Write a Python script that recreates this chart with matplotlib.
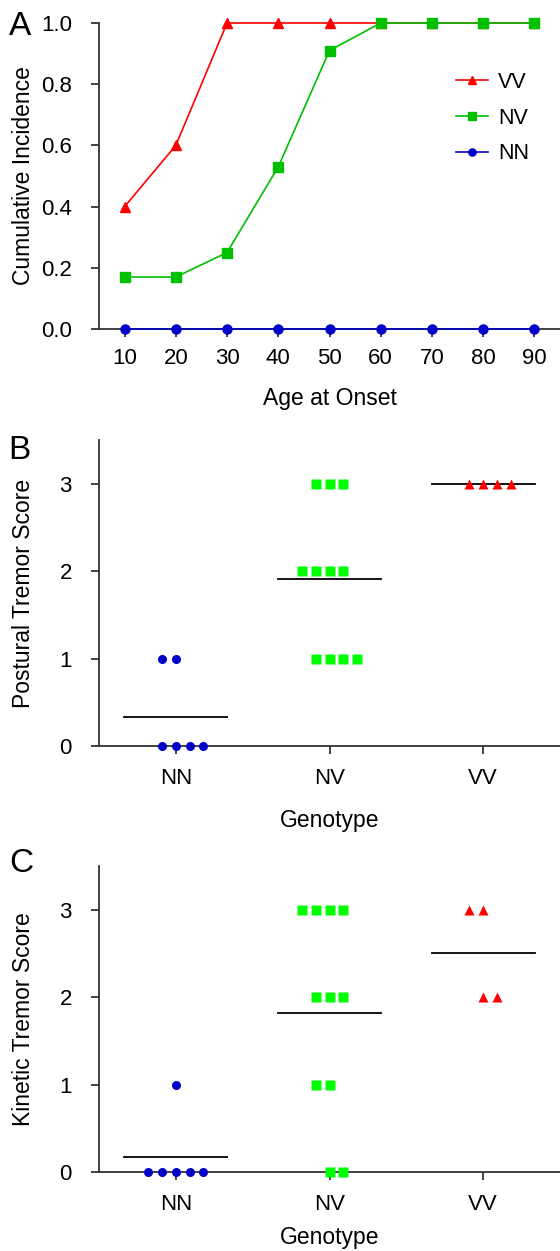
# cumulative incidence + tremor scores by genotype (3 stacked panels)

import numpy as np
import matplotlib
matplotlib.use('Agg')
import matplotlib.pyplot as plt

plt.rcParams['font.family'] = ['Liberation Sans', 'DejaVu Sans']

# panel A data
ages = [10, 20, 30, 40, 50, 60, 70, 80, 90]
inc_vv = [0.40, 0.60, 1.0, 1.0, 1.0, 1.0, 1.0, 1.0, 1.0]
inc_nv = [0.17, 0.17, 0.25, 0.53, 0.91, 1.0, 1.0, 1.0, 1.0]
inc_nn = [0.0, 0.0, 0.0, 0.0, 0.0, 0.0, 0.0, 0.0, 0.0]

# panel B / C data (one score per subject)
genotypes = ['NN', 'NV', 'VV']
postural_nn = [0, 0, 0, 0, 1, 1]
postural_nv = [3, 3, 3, 2, 2, 2, 2, 1, 1, 1, 1]
postural_vv = [3, 3, 3, 3]
kinetic_nn = [0, 0, 0, 0, 0, 1]
kinetic_nv = [3, 3, 3, 3, 2, 2, 2, 1, 1, 0, 0]
kinetic_vv = [3, 3, 2, 2]

# layout of the dot rows: first slot (in steps) for each score level
postural_start = [{0: -1, 1: -1}, {3: -1, 2: -2, 1: -1}, {3: -1}]
kinetic_start = [{0: -2, 1: 0}, {3: -2, 2: -1, 1: -1, 0: 0}, {3: -1, 2: 0}]

RED = '#ff0000'
GREEN_A = '#00c000'
GREEN = '#00ff00'
BLUE = '#0000c8'
SPINE = '#333333'

W, H = 560, 1251
fig = plt.figure(figsize=(W / 100, H / 100), dpi=100)

left = 99 / W
width = 461 / W


def axes_px(top, bottom):
    return fig.add_axes([left, 1 - bottom / H, width, (bottom - top) / H])


def style(ax, xpad):
    for s in ['top', 'right']:
        ax.spines[s].set_visible(False)
    for s in ['left', 'bottom']:
        ax.spines[s].set_color(SPINE)
        ax.spines[s].set_linewidth(1.3)
    ax.tick_params(axis='y', direction='out', length=6, width=1.3, color=SPINE,
                   labelsize=16, pad=13.5)
    ax.tick_params(axis='x', direction='out', length=6, width=1.3, color=SPINE,
                   labelsize=16, pad=xpad)


# ---- A ----
axA = axes_px(23, 329)
axA.plot(ages, inc_nn, '-o', color=BLUE, lw=1.2, ms=6.5, clip_on=False, zorder=3, label='NN')
axA.plot(ages, inc_vv, '-^', color=RED, lw=1.2, ms=7, clip_on=False, zorder=4, label='VV')
axA.plot(ages, inc_nv, '-s', color=GREEN_A, lw=1.2, ms=7, clip_on=False, zorder=5, label='NV')
axA.set_xlim(5, 95)
axA.set_ylim(0, 1)
axA.set_xticks(ages)
axA.set_yticks([0, 0.2, 0.4, 0.6, 0.8, 1.0])
axA.set_yticklabels(['%.1f' % v for v in [0, 0.2, 0.4, 0.6, 0.8, 1.0]])
style(axA, 7.5)
axA.set_xlabel('Age at Onset', fontsize=16.5)
axA.set_ylabel('Cumulative Incidence', fontsize=16.5)
axA.xaxis.set_label_coords(0.5, -0.19)
axA.yaxis.set_label_coords(-0.139, 0.5)

h, l = axA.get_legend_handles_labels()
order = [1, 2, 0]
axA.legend([h[i] for i in order], [l[i] for i in order], loc='upper left',
           bbox_to_anchor=(456 / W, 1 - 72 / H), bbox_transform=fig.transFigure,
           frameon=False, fontsize=15.5, handlelength=1.5, handletextpad=0.45,
           labelspacing=0.68, borderpad=0, borderaxespad=0, numpoints=1,
           markerscale=0.8)


# ---- B and C ----
def dot_panel(ax, groups, starts, ylabel, xlab_y):
    markers = ['o', 's', '^']
    colors = [BLUE, GREEN, RED]
    sizes = [6.5, 7, 7]
    step = 0.09
    for i, (vals, st) in enumerate(zip(groups, starts)):
        vals = np.array(vals)
        xs = np.zeros(len(vals))
        for lev in np.unique(vals):
            idx = np.where(vals == lev)[0]
            xs[idx] = (i + 1) + step * (st[lev] + np.arange(len(idx)))
        ax.plot(xs, vals, linestyle='none', marker=markers[i], color=colors[i],
                ms=sizes[i], mec='none', clip_on=False, zorder=4)
        m = vals.mean()
        ax.plot([i + 1 - 0.335, i + 1 + 0.335], [m, m], color='black', lw=1.3, zorder=3)
    ax.set_xlim(0.5, 3.5)
    ax.set_ylim(0, 3.5)
    ax.set_xticks([1, 2, 3])
    ax.set_xticklabels(genotypes)
    ax.set_yticks([0, 1, 2, 3])
    style(ax, 9.5)
    ax.set_xlabel('Genotype', fontsize=16.5)
    ax.set_ylabel(ylabel, fontsize=16.5)
    ax.xaxis.set_label_coords(0.5, xlab_y)
    ax.yaxis.set_label_coords(-0.139, 0.5)


axB = axes_px(440, 746)
dot_panel(axB, [postural_nn, postural_nv, postural_vv], postural_start,
          'Postural Tremor Score', -0.205)

axC = axes_px(866, 1172)
dot_panel(axC, [kinetic_nn, kinetic_nv, kinetic_vv], kinetic_start,
          'Kinetic Tremor Score', -0.178)

# panel letters
fig.text(9 / W, 1 - 35 / H, 'A', fontsize=24, va='baseline')
fig.text(8 / W, 1 - 459 / H, 'B', fontsize=24, va='baseline')
fig.text(9 / W, 1 - 872 / H, 'C', fontsize=24, va='baseline')

fig.savefig('out.png', dpi=100)
